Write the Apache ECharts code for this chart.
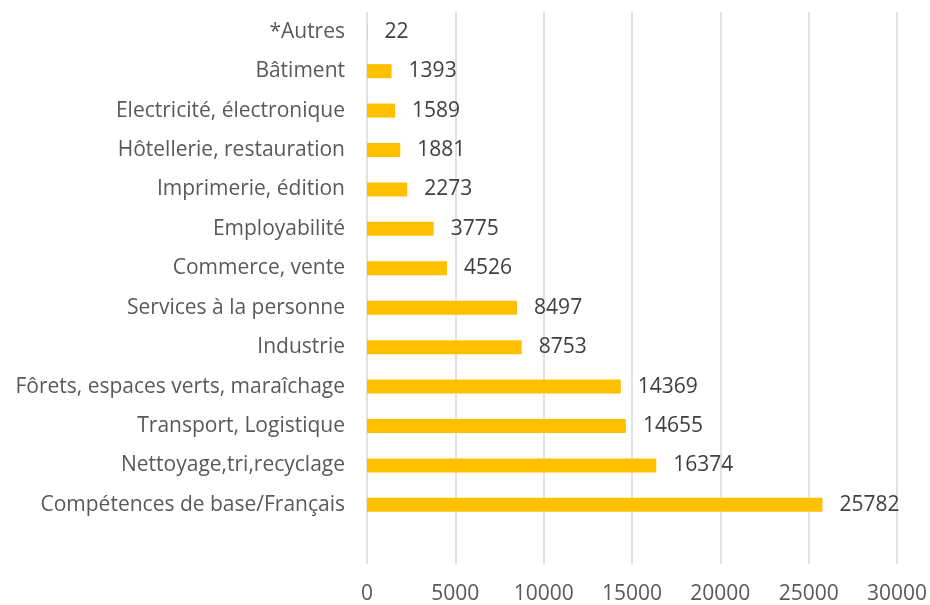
<!DOCTYPE html>
<html>
<head>
<meta charset="utf-8">
<script src="https://cdn.jsdelivr.net/npm/echarts@6/dist/echarts.min.js"></script>
<style>
  html, body { margin: 0; padding: 0; background: #fff; }
  #chart { width: 930px; height: 605px; }
</style>
</head>
<body>
<div id="chart"></div>
<script>
// catégories, du bas vers le haut (la première est vide, comme dans le graphique d'origine)
const categories = [
  '',
  'Compétences de base/Français',
  'Nettoyage,tri,recyclage',
  'Transport, Logistique',
  'Fôrets, espaces verts, maraîchage',
  'Industrie',
  'Services à la personne',
  'Commerce, vente',
  'Employabilité',
  'Imprimerie, édition',
  'Hôtellerie, restauration',
  'Electricité, électronique',
  'Bâtiment',
  '*Autres'
]
const values = [null, 25782, 16374, 14655, 14369, 8753, 8497, 4526, 3775, 2273, 1881, 1589, 1393, 22]
const xTicks = { min: 0, max: 30000, interval: 5000 }

const chart = echarts.init(document.getElementById('chart'))
const font = '"Open Sans", "Noto Sans", sans-serif'

chart.setOption({
  animation: false,
  grid: { left: 367, right: 30, top: 12, bottom: 38, containLabel: false },
  xAxis: {
    type: 'value',
    min: xTicks.min,
    max: xTicks.max,
    interval: xTicks.interval,
    axisLine: { show: false },
    axisTick: { show: false },
    axisLabel: { color: '#595959', fontSize: 21, fontFamily: font, margin: 20, formatter: (v) => String(v) },
    splitLine: { show: true, lineStyle: { color: '#d9d9d9', width: 1.5 } }
  },
  yAxis: {
    type: 'category',
    data: categories,
    axisLine: { show: false },
    axisTick: { show: false },
    splitLine: { show: false },
    axisLabel: { color: '#595959', fontSize: 21, fontFamily: font, margin: 22 }
  },
  series: [{
    type: 'bar',
    data: values,
    barWidth: 14,
    itemStyle: { color: '#FFC000' },
    label: {
      show: true,
      position: 'right',
      distance: 17,
      color: '#404040',
      fontSize: 21,
      fontFamily: font
    }
  }]
})
</script>
</body>
</html>
